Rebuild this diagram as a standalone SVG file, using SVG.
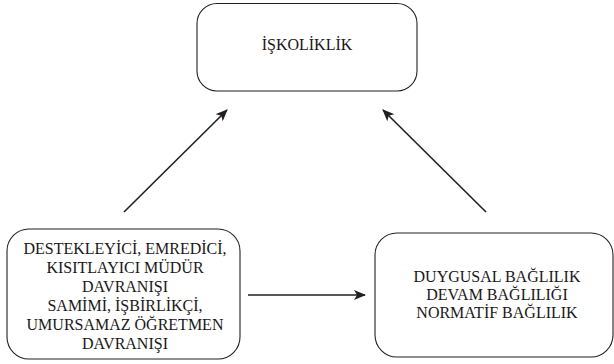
<svg xmlns="http://www.w3.org/2000/svg" width="614" height="364" viewBox="0 0 614 364">
<style>
.box{fill:#fff;stroke:#231f20;stroke-width:1.1}
.t{font-family:'Liberation Serif','Times New Roman',Times,'Noto Serif','DejaVu Serif',serif;font-size:16px;fill:#1a1718;text-anchor:middle}
.c{stroke:#231f20;stroke-width:1.6;fill:none}
</style>
<defs>
<marker id="ah" viewBox="0 0 12 10" refX="11" refY="5" markerWidth="12" markerHeight="10" markerUnits="userSpaceOnUse" orient="auto">
<path d="M0,0 L12,5 L0,10 L3,5 z" fill="#231f20"/>
</marker>
</defs>
<rect width="614" height="364" fill="#fff"/>
<g id="connectors">
<line class="c" x1="124" y1="212" x2="227" y2="110" marker-end="url(#ah)"/>
<line class="c" x1="486" y1="212" x2="383" y2="110" marker-end="url(#ah)"/>
<line class="c" x1="248" y1="295" x2="365" y2="295" marker-end="url(#ah)"/>
</g>
<g id="iskoliklik">
<rect class="box" x="197" y="3.5" width="220" height="87.5" rx="20" ry="20"/>
<text class="t" x="307" y="50" font-family="Liberation Serif, serif">İŞKOLİKLİK</text>
</g>
<g id="davranis">
<rect class="box" x="7" y="229" width="233" height="130" rx="22" ry="22"/>
<text class="t" x="125" y="254">DESTEKLEYİCİ, EMREDİCİ,</text>
<text class="t" x="125" y="273">KISITLAYICI MÜDÜR</text>
<text class="t" x="125" y="292">DAVRANIŞI</text>
<text class="t" x="125" y="311">SAMİMİ, İŞBİRLİKÇİ,</text>
<text class="t" x="125" y="330">UMURSAMAZ ÖĞRETMEN</text>
<text class="t" x="125" y="349">DAVRANIŞI</text>
</g>
<g id="baglilik">
<rect class="box" x="375" y="233" width="238" height="124" rx="22" ry="22"/>
<text class="t" x="497" y="282">DUYGUSAL BAĞLILIK</text>
<text class="t" x="497" y="300">DEVAM BAĞLILIĞI</text>
<text class="t" x="497" y="318">NORMATİF BAĞLILIK</text>
</g>
</svg>
